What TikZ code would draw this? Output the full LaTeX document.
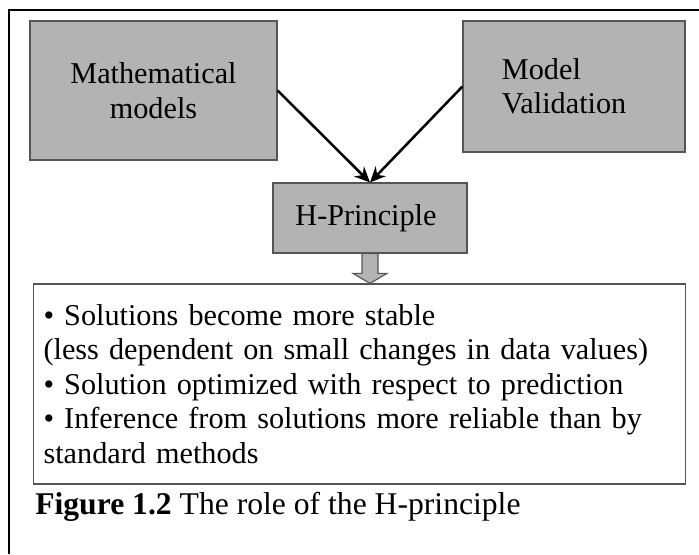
\documentclass[tikz,border=0pt]{standalone}
\usepackage{fontspec}
\setmainfont{Liberation Serif}
\usepackage{tikz}
\usetikzlibrary{arrows.meta,positioning,calc}
\definecolor{boxgray}{RGB}{179,179,179}
\definecolor{edgegray}{RGB}{85,85,85}

\begin{document}
\begin{tikzpicture}[
  x=0.025cm, y=0.025cm,
  archbox/.style={draw=edgegray, line width=0.8pt, inner sep=0pt, font=\fontsize{21.5}{24.5}\selectfont},
  graybox/.style={archbox, fill=boxgray, align=center},
  textbox/.style={archbox, fill=white, align=left},
  arr/.style={-{Stealth[length=11pt,width=10pt]}, line width=1.8pt},
  blockarr/.style={draw=edgegray, fill=boxgray, line width=0.8pt, line join=miter},
  frameline/.style={line width=1.8pt},
  capnote/.style={font=\fontsize{22.5}{24.5}\selectfont, inner sep=0pt}
]
\useasboundingbox (0,0) rectangle (699,554);
\draw[frameline] (9,0) |- (699,544);

\node[graybox, minimum width=6.175cm, minimum height=3.475cm] (mm) at (153.5,463.5) {Mathematical\\models};
\node[graybox, align=left, text width=3.6cm, minimum width=5.55cm, minimum height=3.275cm] (mv) at (574,467.5) {Model\\Validation};
\node[graybox, minimum width=4.85cm, minimum height=1.75cm] (hp) at (370,336) {H-Principle\hspace{0.2cm}};

\draw[arr] (mm.east) -- (hp.north);
\draw[arr] (mv.west) -- (hp.north);

\node[textbox, text width=15.78cm, minimum width=16.3cm, minimum height=5cm] (res) at (359.25,170)
  {• Solutions become more stable\\
   (less dependent on small changes in data values)\\
   • Solution optimized with respect to prediction\\
   • Inference from solutions more reliable than by\\
   standard methods};

% hollow arrow down to the result box
\coordinate (tip) at (hp.south |- res.north);
\draw[blockarr] ($(hp.south)+(-8,0)$) -- ($(tip)+(-8,10)$) -- ($(tip)+(-17,10)$) -- (tip)
  -- ($(tip)+(17,10)$) -- ($(tip)+(8,10)$) -- ($(hp.south)+(8,0)$) -- cycle;

\node[capnote, anchor=base west] (cap) at (35,39) {\textbf{Figure 1.2} The role of the H-principle};
\end{tikzpicture}
\end{document}
